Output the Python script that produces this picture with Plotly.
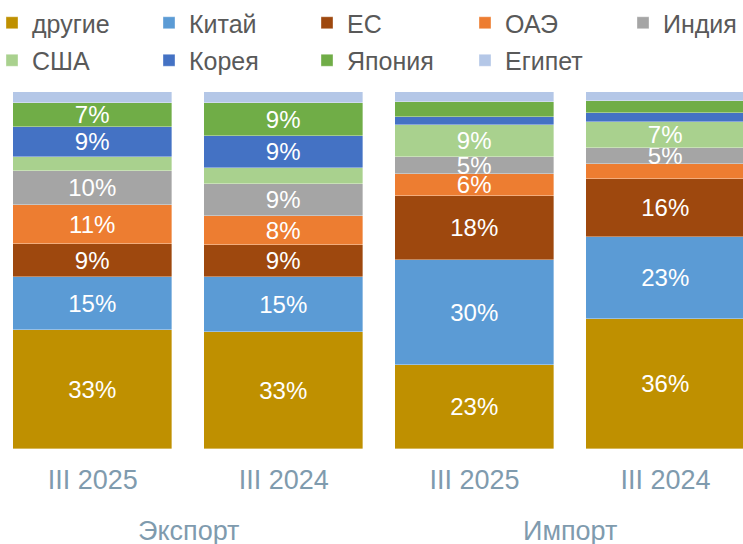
import plotly.graph_objects as go

categories = ["III 2025", "III 2024", "III 2025", "III 2024"]
groups = ["Экспорт", "Импорт"]
group_pos = [0.5, 2.5]

drugie = [33.4, 32.9, 23.4, 36.4]
kitai = [14.8, 15.3, 29.6, 23.1]
es = [9.2, 9.0, 18.0, 16.0]
oae = [10.9, 8.1, 6.1, 4.2]
india = [9.6, 8.9, 4.8, 4.7]
usa = [3.8, 4.4, 8.8, 7.3]
korea = [8.6, 9.2, 2.2, 2.3]
japan = [6.6, 9.2, 4.4, 3.4]
egypt = [3.1, 3.0, 2.7, 2.6]

series = [
    ("другие", drugie, "#BF9000", "legend"),
    ("Китай", kitai, "#5B9BD5", "legend2"),
    ("ЕС", es, "#9E480E", "legend3"),
    ("ОАЭ", oae, "#ED7D31", "legend4"),
    ("Индия", india, "#A5A5A5", "legend5"),
    ("США", usa, "#A9D18E", "legend"),
    ("Корея", korea, "#4472C4", "legend2"),
    ("Япония", japan, "#70AD47", "legend3"),
    ("Египет", egypt, "#B4C7E7", "legend4"),
]

FONT = "Liberation Sans, Arial, sans-serif"
W, H = 743, 544
ML, MR, MT, MB = 0, 0, 92, 95
PH = H - MT - MB

fig = go.Figure()
xs = list(range(len(categories)))
for name, vals, color, leg in series:
    txt = [f"{round(v)}%" if v >= 4.5 else "" for v in vals]
    fig.add_trace(go.Bar(
        x=xs, y=vals, name=name, legend=leg, legendgroup=name,
        marker=dict(color=color, line=dict(color="rgba(255,255,255,0.6)", width=0.6)),
        width=0.833, text=txt, textposition="inside", insidetextanchor="middle",
        textangle=0, textfont=dict(color="white", size=24, family=FONT),
        hoverinfo="skip",
    ))

# legend columns: text left edges in px (approx.)
col_px = [32, 189, 347, 505, 663]
legend_names = ["legend", "legend2", "legend3", "legend4", "legend5"]
legend_cfg = {}
for ln, px in zip(legend_names, col_px):
    legend_cfg[ln] = dict(
        x=(px - 30) / W, xanchor="left", y=1 + MT / PH, yanchor="top",
        orientation="v", traceorder="grouped", tracegroupgap=2, indentation=-10,
        font=dict(size=25, color="#595959", family=FONT),
        bgcolor="rgba(0,0,0,0)", borderwidth=0,
    )

annotations = [
    dict(x=gx, y=-(531 - (H - MB)) / PH, xref="x", yref="paper", text=g, showarrow=False,
         font=dict(size=27, color="#7F9BAE", family=FONT), xanchor="center", yanchor="middle")
    for g, gx in zip(groups, group_pos)
]

fig.update_layout(
    width=W, height=H,
    margin=dict(l=ML, r=MR, t=MT, b=MB, autoexpand=False),
    barmode="stack", bargap=0,
    plot_bgcolor="white", paper_bgcolor="white",
    font=dict(family=FONT),
    showlegend=True,
    uniformtext=dict(minsize=24, mode="show"),
    xaxis=dict(range=[-0.486, 3.406], tickvals=xs, ticktext=categories,
               showgrid=False, zeroline=False, showline=False, ticks="",
               tickfont=dict(size=27, color="#7F9BAE", family=FONT),
               ticklabelstandoff=12, fixedrange=True, automargin=False),
    yaxis=dict(range=[0, 100], visible=False, fixedrange=True, automargin=False),
    annotations=annotations,
    **legend_cfg,
)

fig.write_html(
    "out.html",
    config={"displayModeBar": False},
    post_script="document.body.style.margin='0px';document.body.style.overflow='hidden';",
)
